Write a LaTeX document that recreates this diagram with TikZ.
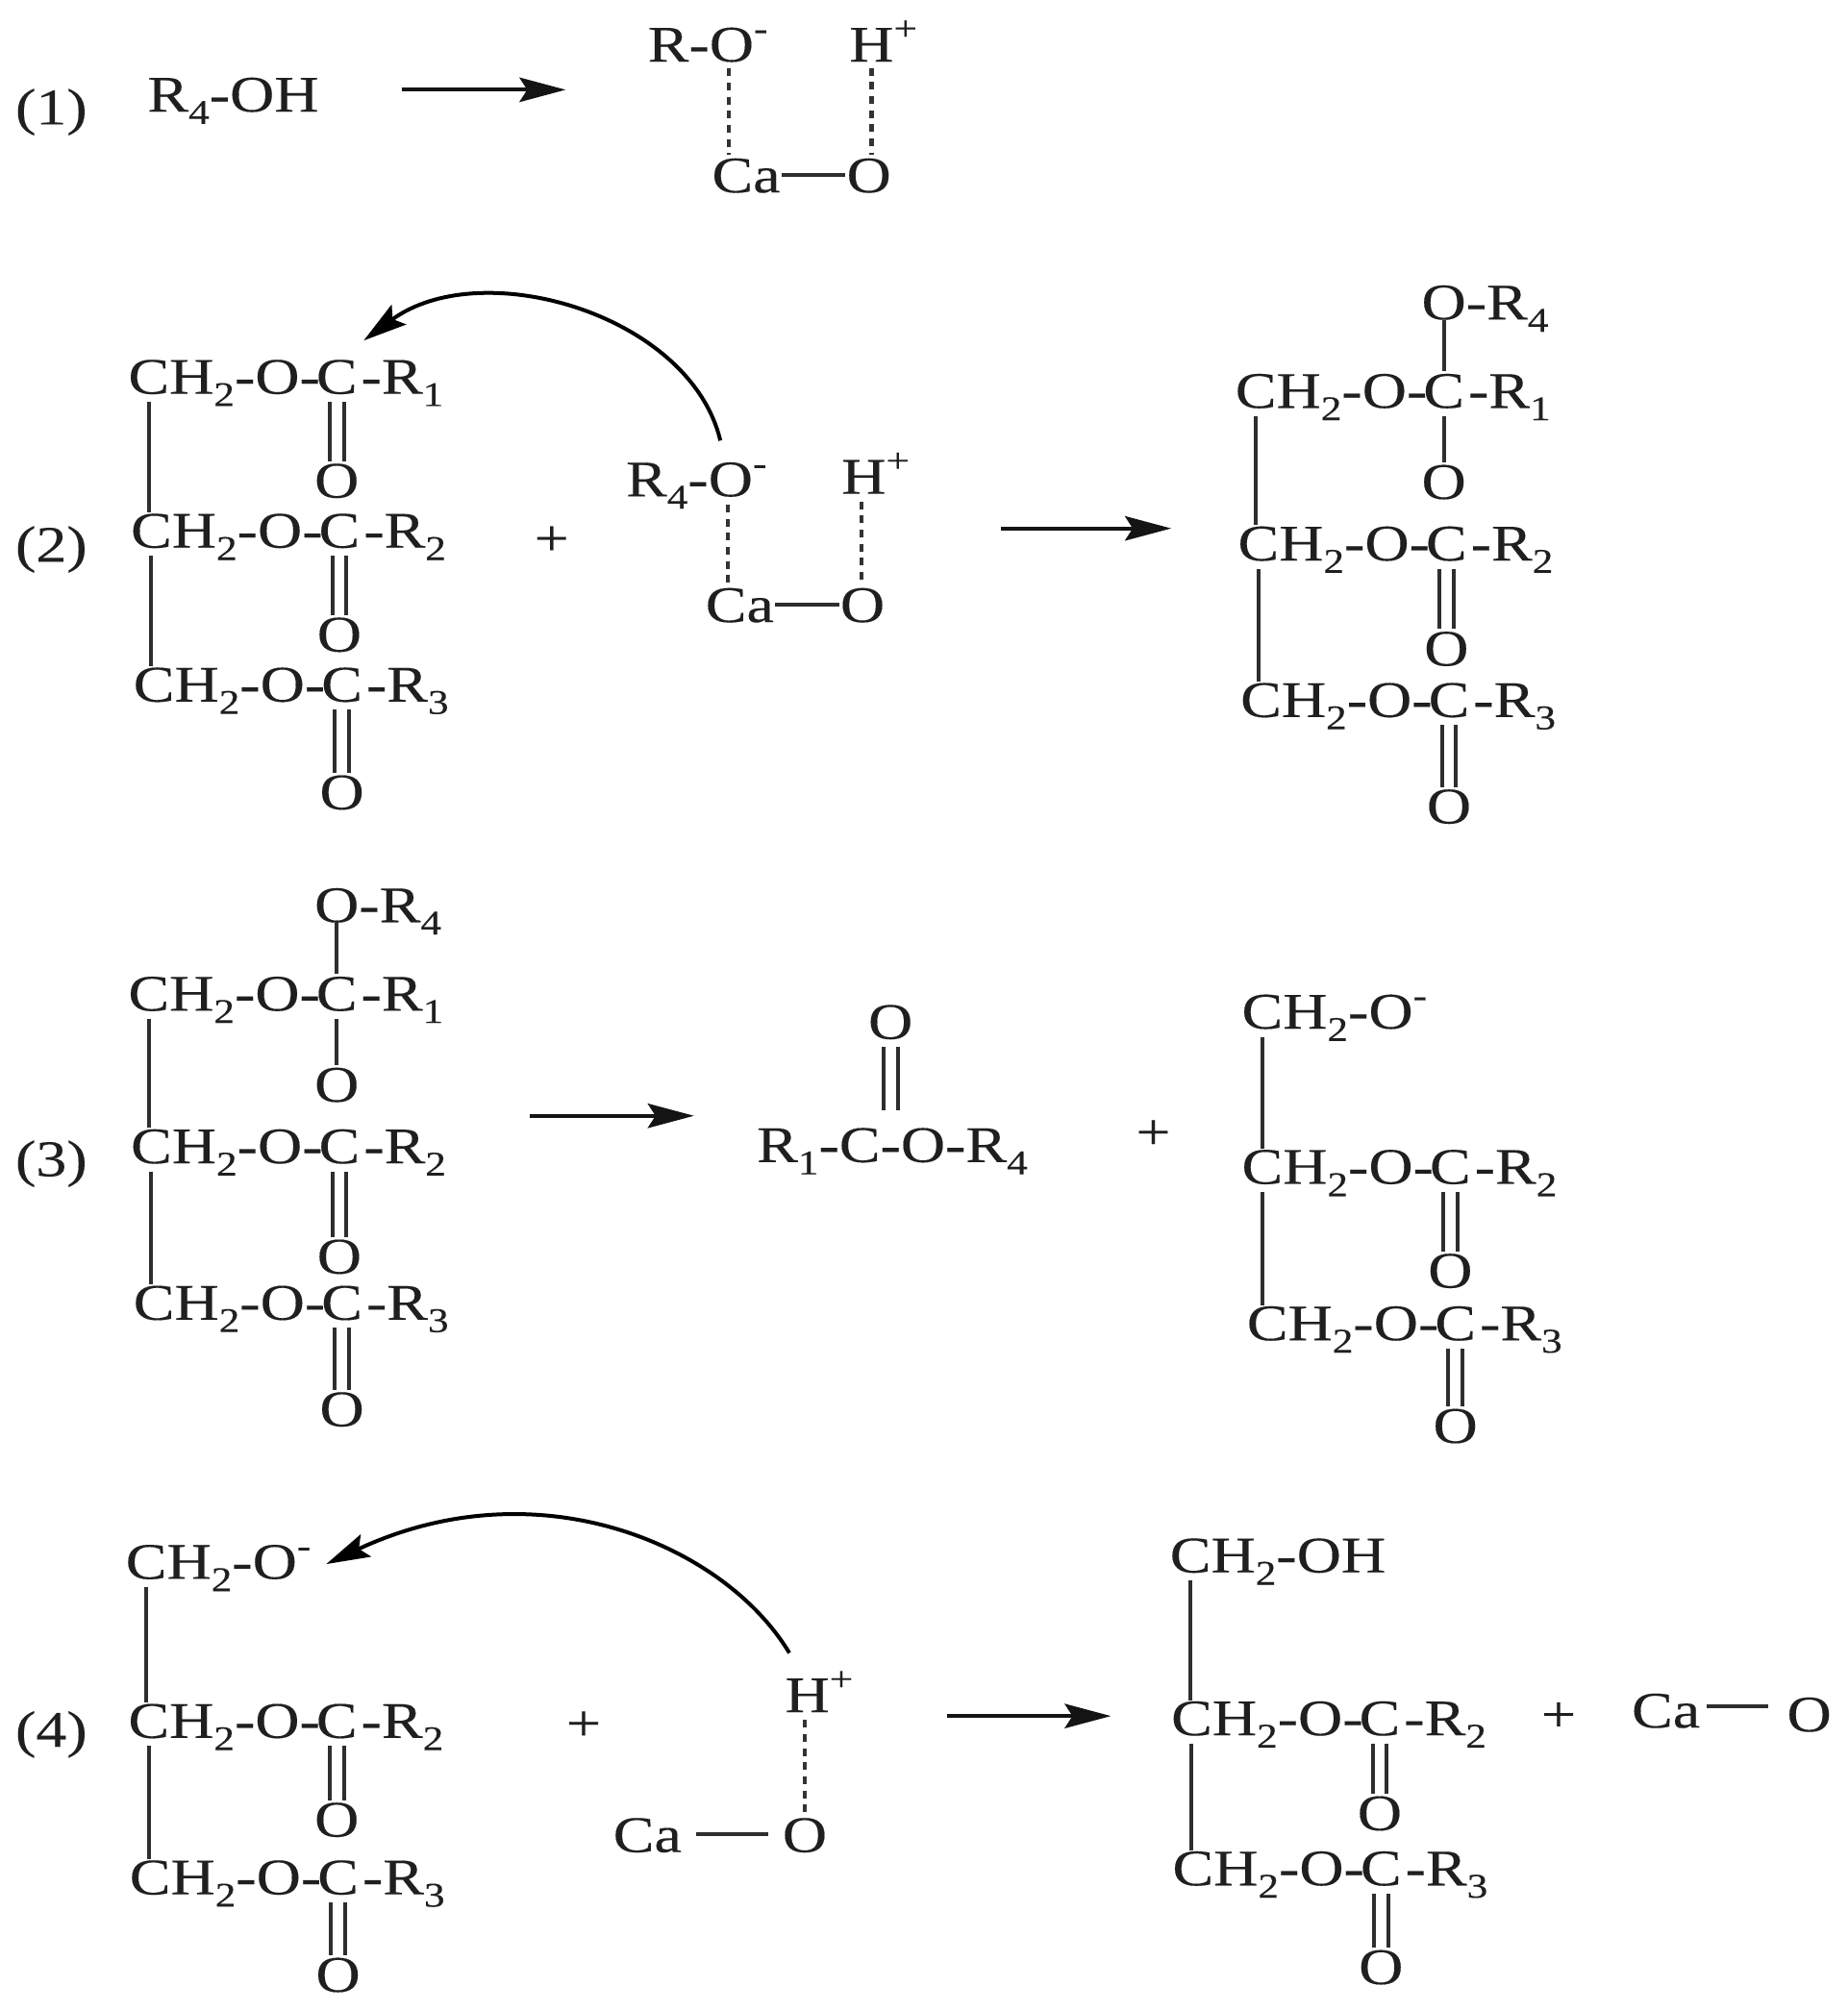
\documentclass[tikz,border=0pt]{standalone}
\usepackage{fontspec}
\setmainfont[FakeStretch=1.2,FakeBold=0.25]{Liberation Serif}
\usetikzlibrary{arrows.meta}
\newcommand\lowr[1]{\raisebox{-.24em}{\fontsize{27}{28}\selectfont #1}}
\newcommand\upr[1]{\raisebox{.42em}{\fontsize{27}{28}\selectfont #1}}
\tikzset{
  atom/.style={inner sep=0pt,outer sep=0pt,anchor=base west,font=\fontsize{40}{46}\selectfont,text=black!88},
  atomc/.style={atom,anchor=base},
  bond/.style={line width=3pt,black!82},
  dbond/.style={line width=3.2pt,black!80,dash pattern=on 6pt off 5pt},
  rarrow/.style={line width=3pt,black!92,-{Stealth[length=36pt,width=19pt,inset=6pt]}},
  carrow/.style={line width=3pt,black,-{Stealth[length=34pt,width=19pt,inset=6pt]}},
}
% name, x, baseline, R index
\newcommand\estrow[4]{%
  \node[atom] (#1-ch) at (#2,#3) {CH};
  \node[atom] (#1-o) at (#1-ch.base east) {\lowr{2}-O-\kern-3pt};
  \node[atom] (#1-c) at (#1-o.base east) {C};
  \node[atom] (#1-r) at (#1-c.base east) {\kern3pt-R\lowr{#4}};
}
% carbonyl: row name, baseline of O
\newcommand\carbonyl[2]{%
  \node[atomc] (#1-k) at (#1-c.base |- 0,#2) {O};
  \draw[bond] ([xshift=-5.5pt,yshift=-6pt]#1-c.south) -- ([xshift=-5.5pt,yshift=2pt]#1-k.north);
  \draw[bond] ([xshift=5.5pt,yshift=-6pt]#1-c.south) -- ([xshift=5.5pt,yshift=2pt]#1-k.north);
}
\newcommand\spine[2]{%
  \draw[bond] ([xshift=16pt,yshift=-6pt]#1-ch.south west) -- ([xshift=16pt,yshift=1pt]#1-ch.south west |- #2-ch.north);
}
% tetrahedral centre: row name, baseline upper O, baseline lower O
\newcommand\tetra[3]{%
  \node[atomc] (#1-u) at (#1-c.base |- 0,#2) {O};
  \node[atom] (#1-ur) at (#1-u.base east) {-R\lowr{4}};
  \node[atomc] (#1-k) at (#1-c.base |- 0,#3) {O};
  \draw[bond] (#1-u.south) -- ([yshift=2pt]#1-c.north);
  \draw[bond] ([yshift=-6pt]#1-c.south) -- ([yshift=2pt]#1-k.north);
}
\begin{document}
\begin{tikzpicture}[x=1pt,y=-1pt]
\useasboundingbox (0,0) rectangle (1440,1568);
\fill[white] (0,0) rectangle (1440,1568);

% ---------- (1)
\node[atom] (l1) at (12,97) {(1)};
\node[atom] (m1) at (115,87) {R\lowr{4}-OH};
\coordinate (a1s) at (313,70); \coordinate (a1e) at (441,70);
\draw[rarrow] (a1s) -- (a1e);
\node[atom] (r1) at (505,48) {R-};
\node[atom] (o1) at (r1.base east) {O};
\node[atom] (om1) at (o1.base east) {\upr{-}};
\node[atom] (h1) at (662,48) {H};
\node[atom] (hp1) at (h1.base east) {\upr{+}};
\node[atom] (ca1) at (555,150) {Ca};
\node[atom] (ox1) at (660,150) {O};
\draw[dbond] ([xshift=-2pt,yshift=-5pt]o1.south) -- ([xshift=-2pt,yshift=3pt]ca1.north -| o1.south);
\draw[dbond] ([yshift=-5pt]h1.south) -- ([yshift=3pt]ox1.north -| h1.south);
\draw[bond] ([yshift=14pt,xshift=1pt]ca1.south east) -- ([yshift=14pt,xshift=-1pt]ox1.south west);

% ---------- (2) left
\node[atom] (l2) at (12,438) {(2)};
\estrow{a1}{100}{307}{1}
\estrow{a2}{102}{427}{2}
\estrow{a3}{104}{547}{3}
\carbonyl{a1}{388}\carbonyl{a2}{508}\carbonyl{a3}{631}
\spine{a1}{a2}\spine{a2}{a3}
\node[atomc] (p2) at (430,433) {+};
\node[atom] (r2) at (488,387) {R\lowr{4}-};
\node[atom] (o2) at (r2.base east) {O};
\node[atom] (om2) at (o2.base east) {\upr{-}};
\node[atom] (h2) at (656,385) {H};
\node[atom] (hp2) at (h2.base east) {\upr{+}};
\node[atom] (ca2) at (550,485) {Ca};
\node[atom] (ox2) at (655,485) {O};
\draw[dbond] ([xshift=-2pt,yshift=-6pt]o2.south) -- ([xshift=-2pt,yshift=3pt]ca2.north -| o2.south);
\draw[dbond] ([xshift=-2pt,yshift=-6pt]h2.south) -- ([xshift=-2pt,yshift=3pt]ox2.north -| h2.south);
\draw[bond] ([yshift=14pt,xshift=1pt]ca2.south east) -- ([yshift=14pt,xshift=-1pt]ox2.south west);
\draw[carrow] ([xshift=-8pt,yshift=17pt]o2.north) .. controls (538,245) and (375,198) .. ([xshift=21pt,yshift=15pt]a1-c.north);
\coordinate (a2s) at (780,412); \coordinate (a2e) at (913,412);
\draw[rarrow] (a2s) -- (a2e);

% ---------- (2) right
\estrow{b1}{963}{318}{1}
\estrow{b2}{965}{437}{2}
\estrow{b3}{967}{559}{3}
\tetra{b1}{249}{389}\carbonyl{b2}{519}\carbonyl{b3}{642}
\spine{b1}{b2}\spine{b2}{b3}

% ---------- (3) left
\node[atom] (l3) at (12,917) {(3)};
\estrow{c1}{100}{788}{1}
\estrow{c2}{102}{907}{2}
\estrow{c3}{104}{1029}{3}
\tetra{c1}{719}{859}\carbonyl{c2}{993}\carbonyl{c3}{1112}
\spine{c1}{c2}\spine{c2}{c3}
\coordinate (a3s) at (413,870); \coordinate (a3e) at (541,870);
\draw[rarrow] (a3s) -- (a3e);

% R1-C-O-R4
\node[atom] (e-r) at (590,906) {R\lowr{1}-};
\node[atom] (e-c) at (e-r.base east) {C};
\node[atom] (e-o) at (e-c.base east) {-O-R\lowr{4}};
\node[atomc] (e-k) at ([xshift=24pt]e-c.base |- 0,810) {O};
\draw[bond] ([xshift=-5.5pt,yshift=-6pt]e-k.south) -- ([xshift=-5.5pt,yshift=14pt]e-k.south |- e-c.north);
\draw[bond] ([xshift=5.5pt,yshift=-6pt]e-k.south) -- ([xshift=5.5pt,yshift=14pt]e-k.south |- e-c.north);
\node[atomc] (p3) at (899,896) {+};

% ---------- (3) right
\node[atom] (d1-ch) at (968,802) {CH};
\node[atom] (d1-o) at (d1-ch.base east) {\lowr{2}-O\upr{-}};
\estrow{d2}{968}{923}{2}
\estrow{d3}{972}{1045}{3}
\carbonyl{d2}{1004}\carbonyl{d3}{1125}
\spine{d1}{d2}\spine{d2}{d3}

% ---------- (4) left
\node[atom] (l4) at (12,1362) {(4)};
\node[atom] (f1-ch) at (98,1231) {CH};
\node[atom] (f1-o) at (f1-ch.base east) {\lowr{2}-O\upr{-}};
\estrow{f2}{100}{1355}{2}
\estrow{f3}{101}{1477}{3}
\carbonyl{f2}{1432}\carbonyl{f3}{1553}
\spine{f1}{f2}\spine{f2}{f3}
\node[atomc] (p4) at (455,1357) {+};
\node[atom] (h4) at (612,1335) {H};
\node[atom] (hp4) at (h4.base east) {\upr{+}};
\node[atom] (ca4) at (478,1444) {Ca};
\node[atom] (ox4) at (610,1444) {O};
\draw[dbond] ([xshift=-2pt,yshift=-6pt]h4.south) -- ([xshift=-2pt,yshift=3pt]ox4.north -| h4.south);
\draw[bond] ([yshift=14pt,xshift=11pt]ca4.south east) -- ([yshift=14pt,xshift=-11pt]ox4.south west);
\draw[carrow] ([xshift=-14pt,yshift=20pt]h4.north) .. controls (565,1205) and (420,1142) .. ([xshift=12pt,yshift=-15pt]f1-o.north east);
\coordinate (a4s) at (738,1338); \coordinate (a4e) at (866,1338);
\draw[rarrow] (a4s) -- (a4e);

% ---------- (4) right
\node[atom] (g1-ch) at (912,1226) {CH};
\node[atom] (g1-o) at (g1-ch.base east) {\lowr{2}-OH};
\estrow{g2}{913}{1353}{2}
\estrow{g3}{914}{1470}{3}
\carbonyl{g2}{1427}\carbonyl{g3}{1547}
\spine{g1}{g2}\spine{g2}{g3}
\node[atomc] (p5) at (1215,1350) {+};
\node[atom] (ca5) at (1272,1347) {Ca};
\node[atom] (ox5) at (1393,1350) {O};
\draw[bond,line width=3.4pt] ([yshift=17pt,xshift=5pt]ca5.south east) -- ([yshift=20pt,xshift=-15pt]ox5.south west);
\end{tikzpicture}
\end{document}
